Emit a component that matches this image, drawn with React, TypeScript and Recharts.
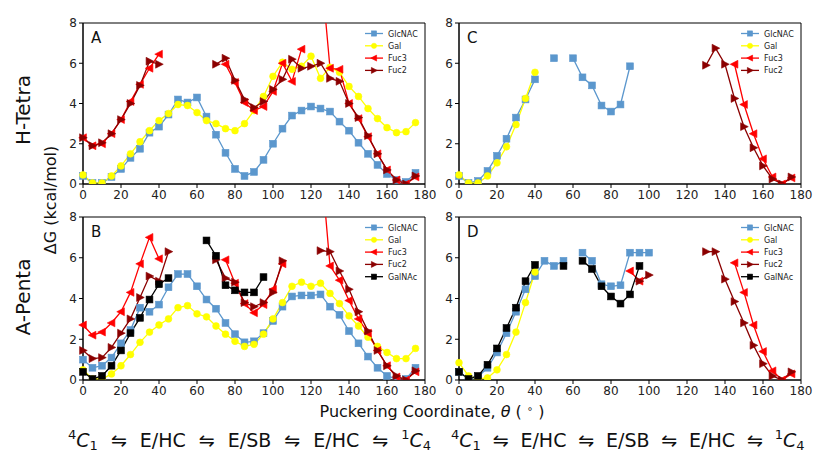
import React from "react";
import { LineChart, Line, XAxis, YAxis, ReferenceArea } from "recharts";

const N = null;

// puckering coordinate theta, 0..175 step 5
const theta = [0, 5, 10, 15, 20, 25, 30, 35, 40, 45, 50, 55, 60, 65, 70, 75, 80, 85, 90, 95, 100, 105, 110, 115, 120, 125, 130, 135, 140, 145, 150, 155, 160, 165, 170, 175];
const thetaTicks = [0, 20, 40, 60, 80, 100, 120, 140, 160, 180];
const dgTicks = [0, 2, 4, 6, 8];

// A: H-Tetra, first set
const aGlcNAC = [0.4, 0.05, 0.05, 0.35, 0.75, 1.3, 1.75, 2.55, 2.85, 3.45, 4.2, 4.05, 4.3, 3.35, 2.45, 1.55, 0.75, 0.4, 0.6, 1.2, 2.0, 2.75, 3.4, 3.65, 3.85, 3.75, 3.6, 3.1, 2.65, 2.05, 1.5, 0.95, 0.5, 0.2, 0.1, 0.55];
const aGal = [0.45, 0.05, 0.05, 0.4, 0.9, 1.5, 2.1, 2.65, 3.15, 3.5, 3.95, 3.9, 3.55, 3.15, 3.0, 2.75, 2.65, 3.0, 3.65, 4.35, 5.35, 6.05, 5.7, 5.85, 6.35, 5.25, 5.8, 5.55, 4.85, 4.35, 3.75, 3.25, 2.8, 2.55, 2.6, 3.05];
const aFuc3 = [2.3, 1.9, 2.0, 2.5, 3.2, 4.1, 4.95, 5.75, 6.45, N, N, N, N, N, N, 5.95, 5.05, 4.05, 3.65, 3.85, 4.6, 6.0, 5.1, 6.7, N, 11, 5.75, 5.7, 4.0, 3.25, 2.35, 1.5, 0.7, 0.2, 0.0, 0.35];
const aFuc2 = [2.3, 1.9, 2.05, 2.5, 3.2, 4.0, 4.9, 6.1, 5.95, N, N, N, N, N, 5.95, 6.25, 5.15, 4.2, 3.8, 4.1, 4.7, 5.2, 6.2, 5.75, 5.85, 6.0, 5.25, 5.1, 4.0, 3.3, 2.4, 1.5, 0.7, 0.2, 0.0, 0.4];

// B: A-Penta, first set
const bGlcNAC = [1.0, 0.6, 0.7, 1.1, 1.8, 2.45, 3.55, 3.35, 3.7, 4.55, 5.2, 5.2, 4.6, 3.95, 3.5, 2.8, 2.25, 1.85, 1.9, 2.3, 2.9, 3.6, 4.1, 4.15, 4.15, 4.2, 3.6, 3.2, 2.4, 1.8, 1.15, 0.6, 0.2, 0.05, 0.05, 0.6];
const bGal = [0.5, 0.05, 0.05, 0.3, 0.7, 1.25, 1.85, 2.35, 2.7, 3.0, 3.55, 3.65, 3.25, 3.1, 2.65, 2.25, 1.9, 1.65, 1.75, 2.25, 3.0, 3.8, 4.6, 4.8, 4.6, 4.75, 4.25, 3.75, 3.15, 2.65, 2.1, 1.65, 1.35, 1.05, 1.05, 1.55];
const bFuc3 = [2.7, 2.2, 2.35, 2.8, 3.35, 4.3, 5.7, 7.0, 5.95, N, N, N, N, N, N, 5.9, 4.75, 3.75, 3.3, 3.7, 4.45, 5.7, N, N, N, 11, 5.6, 4.9, 3.9, 3.0, 2.3, 1.45, 0.7, 0.15, 0.0, 0.4];
const bFuc2 = [1.45, 1.05, 1.1, 1.6, 2.3, 3.0, 4.05, 5.1, 4.85, 6.3, N, N, N, N, 5.9, 5.0, 4.8, 3.8, 3.6, 3.8, 4.3, 5.85, N, N, N, 6.35, 6.3, 5.35, 4.45, 3.35, 2.4, 1.45, 0.7, 0.2, 0.0, 0.45];
const bGalNAc = [0.4, 0.05, 0.2, 0.7, 1.45, 2.3, 3.05, 3.95, 4.7, 5.0, N, N, N, 6.85, 6.1, 4.65, 4.4, 4.3, 4.3, 5.05, N, N, N, N, N, N, N, N, N, N, N, N, N, N, N, N];

// C: H-Tetra, second set
const cGlcNAC = [0.4, 0.05, 0.15, 0.65, 1.4, 2.25, 3.3, 4.2, 5.2, N, 6.25, N, 6.25, 5.3, 4.9, 3.9, 3.6, 3.95, 5.85, N, N, N, N, N, N, N, N, N, N, N, N, N, N, N, N, N];
const cGal = [0.45, 0.05, 0.05, 0.4, 1.05, 1.85, 2.95, 4.25, 5.55, N, N, N, N, N, N, N, N, N, N, N, N, N, N, N, N, N, N, N, N, N, N, N, N, N, N, N];
const cFuc3 = [N, N, N, N, N, N, N, N, N, N, N, N, N, N, N, N, N, N, N, N, N, N, N, N, N, N, N, N, N, 5.95, 3.95, 2.5, 1.25, 0.35, 0.0, 0.3];
const cFuc2 = [N, N, N, N, N, N, N, N, N, N, N, N, N, N, N, N, N, N, N, N, N, N, N, N, N, N, 5.9, 6.75, 5.95, 4.25, 2.85, 1.8, 0.9, 0.25, 0.0, 0.35];

// D: A-Penta, second set
const dGlcNAC = [0.4, 0.05, 0.15, 0.6, 1.35, 2.3, 3.35, 4.45, 5.1, 5.85, 5.6, 5.85, N, 6.25, 5.85, 4.7, 4.6, 4.65, 6.25, 6.25, 6.25, N, N, N, N, N, N, N, N, N, N, N, N, N, N, N];
const dGal = [0.85, 0.2, 0.05, 0.1, 0.5, 1.25, 2.35, 3.8, 5.3, N, N, N, N, N, N, N, N, N, N, N, N, N, N, N, N, N, N, N, N, N, N, N, N, N, N, N];
const dFuc3 = [N, N, N, N, N, N, N, N, N, N, N, N, N, N, N, N, N, N, 5.35, 4.85, N, N, N, N, N, N, N, N, N, 5.75, 4.3, 2.7, 1.4, 0.45, 0.0, 0.3];
const dFuc2 = [N, N, N, N, N, N, N, N, N, N, N, N, N, N, N, N, N, N, N, 4.85, 5.15, N, N, N, N, N, 6.3, 6.3, 4.95, 3.85, 2.8, 1.7, 0.8, 0.2, 0.0, 0.4];
const dGalNAc = [0.4, 0.05, 0.2, 0.75, 1.55, 2.55, 3.55, 4.85, 5.65, N, N, 5.6, N, 5.85, 5.45, 4.6, 4.1, 3.75, 4.2, 5.6, N, N, N, N, N, N, N, N, N, N, N, N, N, N, N, N];

const seriesStyle: Record<string, { color: string; shape: string }> = {
  GlcNAC: { color: "#5b97cd", shape: "square" },
  Gal: { color: "#ffff00", shape: "circle" },
  Fuc3: { color: "#ff0000", shape: "left" },
  Fuc2: { color: "#8b0000", shape: "right" },
  GalNAc: { color: "#000000", shape: "square" },
};

const PLOT_W = 342;
const Y_W = 40;
const M_TOP = 10;
const M_RIGHT = 16;
const X_H = 24;

function drawMarker(shape: string, color: string, cx: number, cy: number, s: number, key?: any) {
  if (shape === "square") {
    return <rect key={key} x={cx - s} y={cy - s} width={2 * s} height={2 * s} fill={color} stroke={color} strokeWidth={0.6} />;
  }
  if (shape === "circle") {
    return <circle key={key} cx={cx} cy={cy} r={s} fill={color} stroke={color} strokeWidth={0.6} />;
  }
  const d = shape === "left" ? -1 : 1;
  const pts = `${cx + d * s * 1.25},${cy} ${cx - d * s},${cy - s * 1.15} ${cx - d * s},${cy + s * 1.15}`;
  return <polygon key={key} points={pts} fill={color} stroke={color} strokeWidth={0.6} />;
}

const makeDot = (name: string) => (props: any) => {
  const { cx, cy, value, index } = props;
  const st = seriesStyle[name];
  if (value == null || cx == null || cy == null || isNaN(cy)) return <g key={`${name}-${index}`} />;
  return drawMarker(st.shape, st.color, cx, cy, 3.4, `${name}-${index}`);
};

type Panel = {
  label: string;
  left: number;
  top: number;
  h: number;
  series: Record<string, (number | null)[]>;
};

const panels: Panel[] = [
  { label: "A", left: 83, top: 23, h: 161, series: { GlcNAC: aGlcNAC, Gal: aGal, Fuc3: aFuc3, Fuc2: aFuc2 } },
  { label: "B", left: 83, top: 217, h: 163, series: { GlcNAC: bGlcNAC, Gal: bGal, Fuc3: bFuc3, Fuc2: bFuc2, GalNAc: bGalNAc } },
  { label: "C", left: 459, top: 23, h: 161, series: { GlcNAC: cGlcNAC, Gal: cGal, Fuc3: cFuc3, Fuc2: cFuc2 } },
  { label: "D", left: 459, top: 217, h: 163, series: { GlcNAC: dGlcNAC, Gal: dGal, Fuc3: dFuc3, Fuc2: dFuc2, GalNAc: dGalNAc } },
];

const tickStyle = { fontSize: 12, fill: "#222", fontFamily: "DejaVu Sans" };

function PanelChart({ p }: { p: Panel }) {
  const names = Object.keys(p.series);
  const data = theta.map((t, i) => {
    const row: any = { theta: t };
    names.forEach((n) => (row[n] = p.series[n][i]));
    return row;
  });
  return (
    <div style={{ position: "absolute", left: p.left - Y_W, top: p.top - M_TOP }}>
      <LineChart width={Y_W + PLOT_W + M_RIGHT} height={M_TOP + p.h + X_H} data={data} margin={{ top: M_TOP, right: M_RIGHT, bottom: 0, left: 0 }}>
        <XAxis dataKey="theta" type="number" domain={[0, 180]} ticks={thetaTicks} height={X_H} tick={tickStyle}
          axisLine={{ stroke: "#000" }} tickLine={{ stroke: "#000" }} tickSize={4} interval={0} />
        <YAxis domain={[0, 8]} ticks={dgTicks} width={Y_W} allowDataOverflow tick={tickStyle}
          axisLine={{ stroke: "#000" }} tickLine={{ stroke: "#000" }} tickSize={4} interval={0} />
        <ReferenceArea x1={0} x2={180} y1={0} y2={8} fill="none" fillOpacity={0} stroke="#000" strokeWidth={1} ifOverflow="visible" />
        {names.map((n) => (
          <Line key={n} dataKey={n} type="linear" stroke={seriesStyle[n].color} strokeWidth={1.3}
            dot={makeDot(n)} activeDot={false} isAnimationActive={false} connectNulls={false} />
        ))}
      </LineChart>
    </div>
  );
}

function Annotations() {
  const sub = (t: string) => <tspan dy={3} fontSize={13}>{t}</tspan>;
  const sup = (t: string) => <tspan dy={-8} fontSize={13}>{t}</tspan>;
  const pathway = (x: number, ws: number) => (
    <text x={x} y={447} fontSize={19} fontFamily="DejaVu Sans" fill="#111" wordSpacing={ws}>
      {sup("4")}<tspan dy={8} fontStyle="italic">C</tspan>{sub("1")}<tspan dy={-3}> ⇋ E/HC ⇋ E/SB ⇋ E/HC ⇋ </tspan>
      {sup("1")}<tspan dy={8} fontStyle="italic">C</tspan>{sub("4")}
    </text>
  );
  return (
    <svg width={814} height={453} style={{ position: "absolute", left: 0, top: 0 }}>
      <text transform="translate(30,110) rotate(-90)" textAnchor="middle" fontSize={20} fontFamily="DejaVu Sans" fill="#111">H-Tetra</text>
      <text transform="translate(30,297) rotate(-90)" textAnchor="middle" fontSize={20} fontFamily="DejaVu Sans" fill="#111">A-Penta</text>
      <text transform="translate(56,200) rotate(-90)" textAnchor="middle" fontSize={16} fontFamily="DejaVu Sans" fill="#111">ΔG (kcal/mol)</text>
      <text x={432} y={417} textAnchor="middle" fontSize={16} fontFamily="DejaVu Sans" fill="#111">
        Puckering Coordinate, <tspan fontStyle="italic">θ</tspan> ( <tspan dy={-5} fontSize={10}>∘</tspan><tspan dy={5}> )</tspan>
      </text>
      {pathway(68, 7)}
      {pathway(451, 5.8)}
      {panels.map((p) => {
        const names = Object.keys(p.series);
        return (
          <g key={p.label}>
            <text x={p.left + 8} y={p.top + 20} fontSize={15} fontFamily="DejaVu Sans" fill="#111">{p.label}</text>
            {names.map((n, i) => {
              const y = p.top + 10.5 + i * 12.3;
              const st = seriesStyle[n];
              return (
                <g key={n}>
                  <line x1={p.left + 282} x2={p.left + 300} y1={y} y2={y} stroke={st.color} strokeWidth={1.3} />
                  {drawMarker(st.shape, st.color, p.left + 291, y, 2.6)}
                  <text x={p.left + 305} y={y + 3} fontSize={8} fontFamily="DejaVu Sans" fill="#222">{n}</text>
                </g>
              );
            })}
          </g>
        );
      })}
    </svg>
  );
}

export default function App() {
  return (
    <div style={{ position: "absolute", left: 0, top: 0, width: 814, height: 453, background: "#fff", overflow: "hidden" }}>
      {panels.map((p) => (
        <PanelChart key={p.label} p={p} />
      ))}
      <Annotations />
    </div>
  );
}
